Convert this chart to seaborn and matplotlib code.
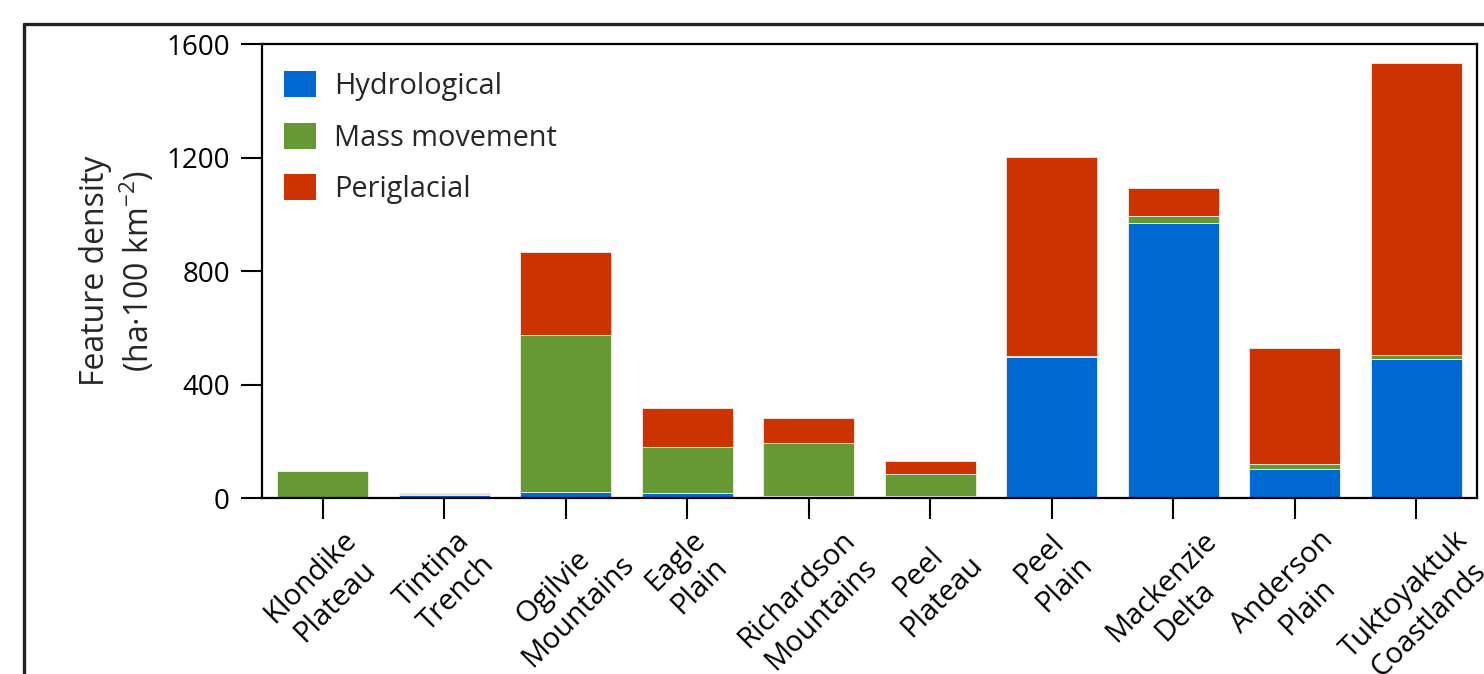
import numpy as np
import pandas as pd
import matplotlib
matplotlib.use("Agg")
import matplotlib.pyplot as plt
from matplotlib.lines import Line2D
from matplotlib.patches import Patch
import seaborn as sns

# Physiographic regions along the transect
regions = ["Klondike\nPlateau", "Tintina\nTrench", "Ogilvie\nMountains", "Eagle\nPlain",
           "Richardson\nMountains", "Peel\nPlateau", "Peel\nPlain", "Mackenzie\nDelta",
           "Anderson\nPlain", "Tuktoyaktuk\nCoastlands"]

# Feature density by process type (ha per 100 km^2)
hydrological = [0, 10, 22, 19, 8, 8, 498, 970, 104, 491]
mass_movement = [95, 4, 552, 161, 185, 77, 4, 24, 16, 14]
periglacial = [0, 4, 292, 138, 90, 46, 699, 97, 407, 1028]

series_names = ["Hydrological", "Mass movement", "Periglacial"]
series_colors = ["#0069D2", "#669933", "#CC3300"]
y_ticks = [0, 400, 800, 1200, 1600]

sns.set_theme(style="ticks")
plt.rcParams["font.family"] = ["Open Sans", "DejaVu Sans"]
plt.rcParams["mathtext.fontset"] = "custom"
plt.rcParams["mathtext.rm"] = "Open Sans"
plt.rcParams["mathtext.it"] = "Open Sans:italic"

df = pd.DataFrame({"region": regions, "hydro": hydrological,
                   "mass": mass_movement, "peri": periglacial})
df["base_peri"] = df["hydro"] + df["mass"]

fig = plt.figure(figsize=(14.84, 6.74), dpi=100)
ax = fig.add_axes([0.1765, 0.2611, 0.8188, 0.6736])

bar_kw = dict(width=0.75, edgecolor="#f4efe9", linewidth=0.6, saturation=1, ax=ax)
sns.barplot(data=df, x="region", y="hydro", color=series_colors[0], **bar_kw)
sns.barplot(data=df, x="region", y="mass", bottom=df["hydro"].values,
            color=series_colors[1], **bar_kw)
sns.barplot(data=df, x="region", y="peri", bottom=df["base_peri"].values,
            color=series_colors[2], **bar_kw)

ax.set_xlim(-0.5, 9.5)
ax.set_ylim(0, 1600)
ax.set_yticks(y_ticks)
ax.set_xlabel("")
ax.set_ylabel("Feature density\n(ha·100 km$^{\\mathregular{-2}}$)", fontsize=23,
              labelpad=7, linespacing=1.19)

for side in ["left", "right", "top", "bottom"]:
    ax.spines[side].set_visible(True)
    ax.spines[side].set_linewidth(1.6)
    ax.spines[side].set_color("black")

ax.tick_params(axis="both", which="major", length=15, width=1.5, color="black",
               labelcolor="black")
ax.tick_params(axis="y", pad=8, labelsize=20)
ax.tick_params(axis="x", pad=5, labelsize=21)
for lab in ax.get_xticklabels():
    lab.set_rotation(45)
    lab.set_ha("center")
    lab.set_va("top")
    lab.set_multialignment("center")
    lab.set_linespacing(1.25)

handles = [Patch(facecolor=c, edgecolor="none") for c in series_colors]
ax.legend(handles, series_names, loc="upper left", bbox_to_anchor=(0.018, 0.94),
          frameon=False, fontsize=20.8, borderpad=0, borderaxespad=0,
          handlelength=1.1, handleheight=1.0, handletextpad=0.65,
          labelspacing=0.75)

# Panel frame lines (top and left)
fig.add_artist(Line2D([24 / 1484, 1.0], [1 - 24 / 674, 1 - 24 / 674],
                      transform=fig.transFigure, color="#222222", linewidth=2.4))
fig.add_artist(Line2D([24 / 1484, 24 / 1484], [0.0, 1 - 24 / 674],
                      transform=fig.transFigure, color="#222222", linewidth=2.4))

fig.savefig("out.png", dpi=100)
